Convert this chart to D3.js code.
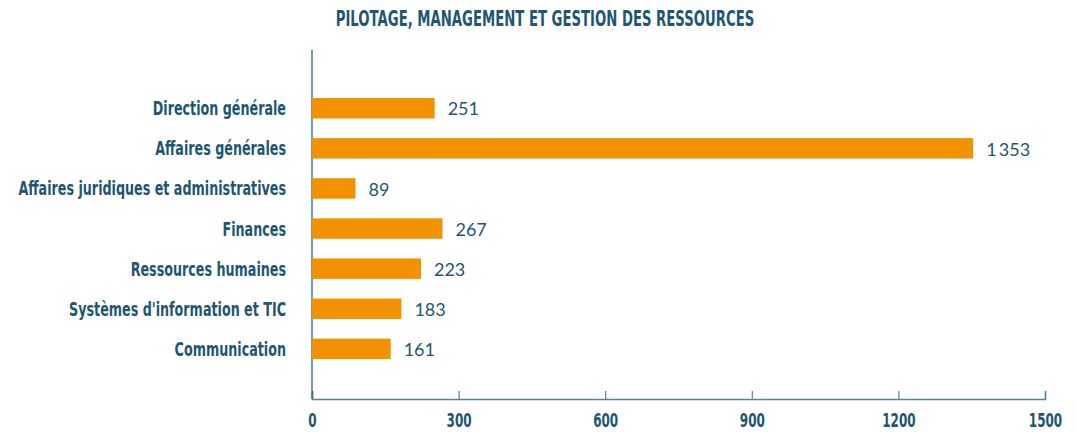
<!DOCTYPE html>
<html>
<head>
<meta charset="utf-8">
<script src="https://cdn.jsdelivr.net/npm/d3@7"></script>
<style>
  body { margin: 0; background: #fff; }
  .cat { font-family: "DejaVu Sans", sans-serif; font-weight: bold; fill: #1f5670; }
  .val { font-family: Lato, "Open Sans", sans-serif; fill: #1f5670; }
</style>
</head>
<body>
<div id="chart"></div>
<script>
const title = "PILOTAGE, MANAGEMENT ET GESTION DES RESSOURCES";
const categories = [
  "Direction générale",
  "Affaires générales",
  "Affaires juridiques et administratives",
  "Finances",
  "Ressources humaines",
  "Systèmes d'information et TIC",
  "Communication"
];
const values = [251, 1353, 89, 267, 223, 183, 161];
const xTicks = [0, 300, 600, 900, 1200, 1500];

const W = 1076, H = 432;
const margin = { top: 50, right: 31, bottom: 33, left: 312 };
const width = W - margin.left - margin.right;
const height = H - margin.top - margin.bottom;
const ink = "#1f5670";

const svg = d3.select("#chart").append("svg")
  .attr("width", W)
  .attr("height", H);

// police condensée simulée (pas de police étroite installée)
svg.append("text")
  .attr("class", "cat")
  .attr("text-anchor", "middle")
  .attr("transform", "translate(545,26) scale(0.646,1)")
  .style("font-size", "20.5px")
  .text(title);

const g = svg.append("g")
  .attr("transform", `translate(${margin.left},${margin.top})`);

const x = d3.scaleLinear().domain([0, 1500]).range([0, width]);
const y = d3.scaleBand().domain(categories).range([38.4, 318.7]).paddingInner(0.49).paddingOuter(0.24);

// axe x
const xAxis = g.append("g")
  .attr("transform", `translate(0,${height})`)
  .call(d3.axisBottom(x).tickValues(xTicks).tickSize(-8).tickFormat(d3.format("d")));
xAxis.select(".domain").attr("stroke", "#5a8196").attr("stroke-width", 1.5);
xAxis.selectAll(".tick line").attr("stroke", "#5a8196").attr("stroke-width", 1.2);
xAxis.selectAll(".tick text")
  .attr("class", "cat")
  .attr("fill", ink)
  .attr("y", 0)
  .attr("dy", 0)
  .attr("transform", "translate(0,28) scale(0.6,1)")
  .style("font-size", "20px");

// axe y
g.append("line")
  .attr("x1", 0).attr("x2", 0)
  .attr("y1", 0).attr("y2", height)
  .attr("stroke", ink)
  .attr("stroke-width", 1.2);

g.selectAll("rect.bar")
  .data(values)
  .enter()
  .append("rect")
  .attr("class", "bar")
  .attr("x", 0)
  .attr("y", (d, i) => y(categories[i]))
  .attr("width", d => x(d))
  .attr("height", y.bandwidth())
  .attr("fill", "#f29200");

g.selectAll("text.cat-label")
  .data(categories)
  .enter()
  .append("text")
  .attr("class", "cat")
  .attr("text-anchor", "end")
  .attr("transform", d => `translate(-26,${y(d) + y.bandwidth() / 2 + 7}) scale(0.67,1)`)
  .style("font-size", "19px")
  .text(d => d);

const fmt = d3.formatLocale({ decimal: ",", thousands: "\u2009", grouping: [3], currency: ["", "€"] }).format(",d");

g.selectAll("text.val")
  .data(values)
  .enter()
  .append("text")
  .attr("class", "val")
  .attr("x", d => x(d) + 13)
  .attr("y", (d, i) => y(categories[i]) + y.bandwidth() / 2)
  .attr("dy", "0.4em")
  .style("font-size", "18px")
  .text(d => fmt(d));
</script>
</body>
</html>
